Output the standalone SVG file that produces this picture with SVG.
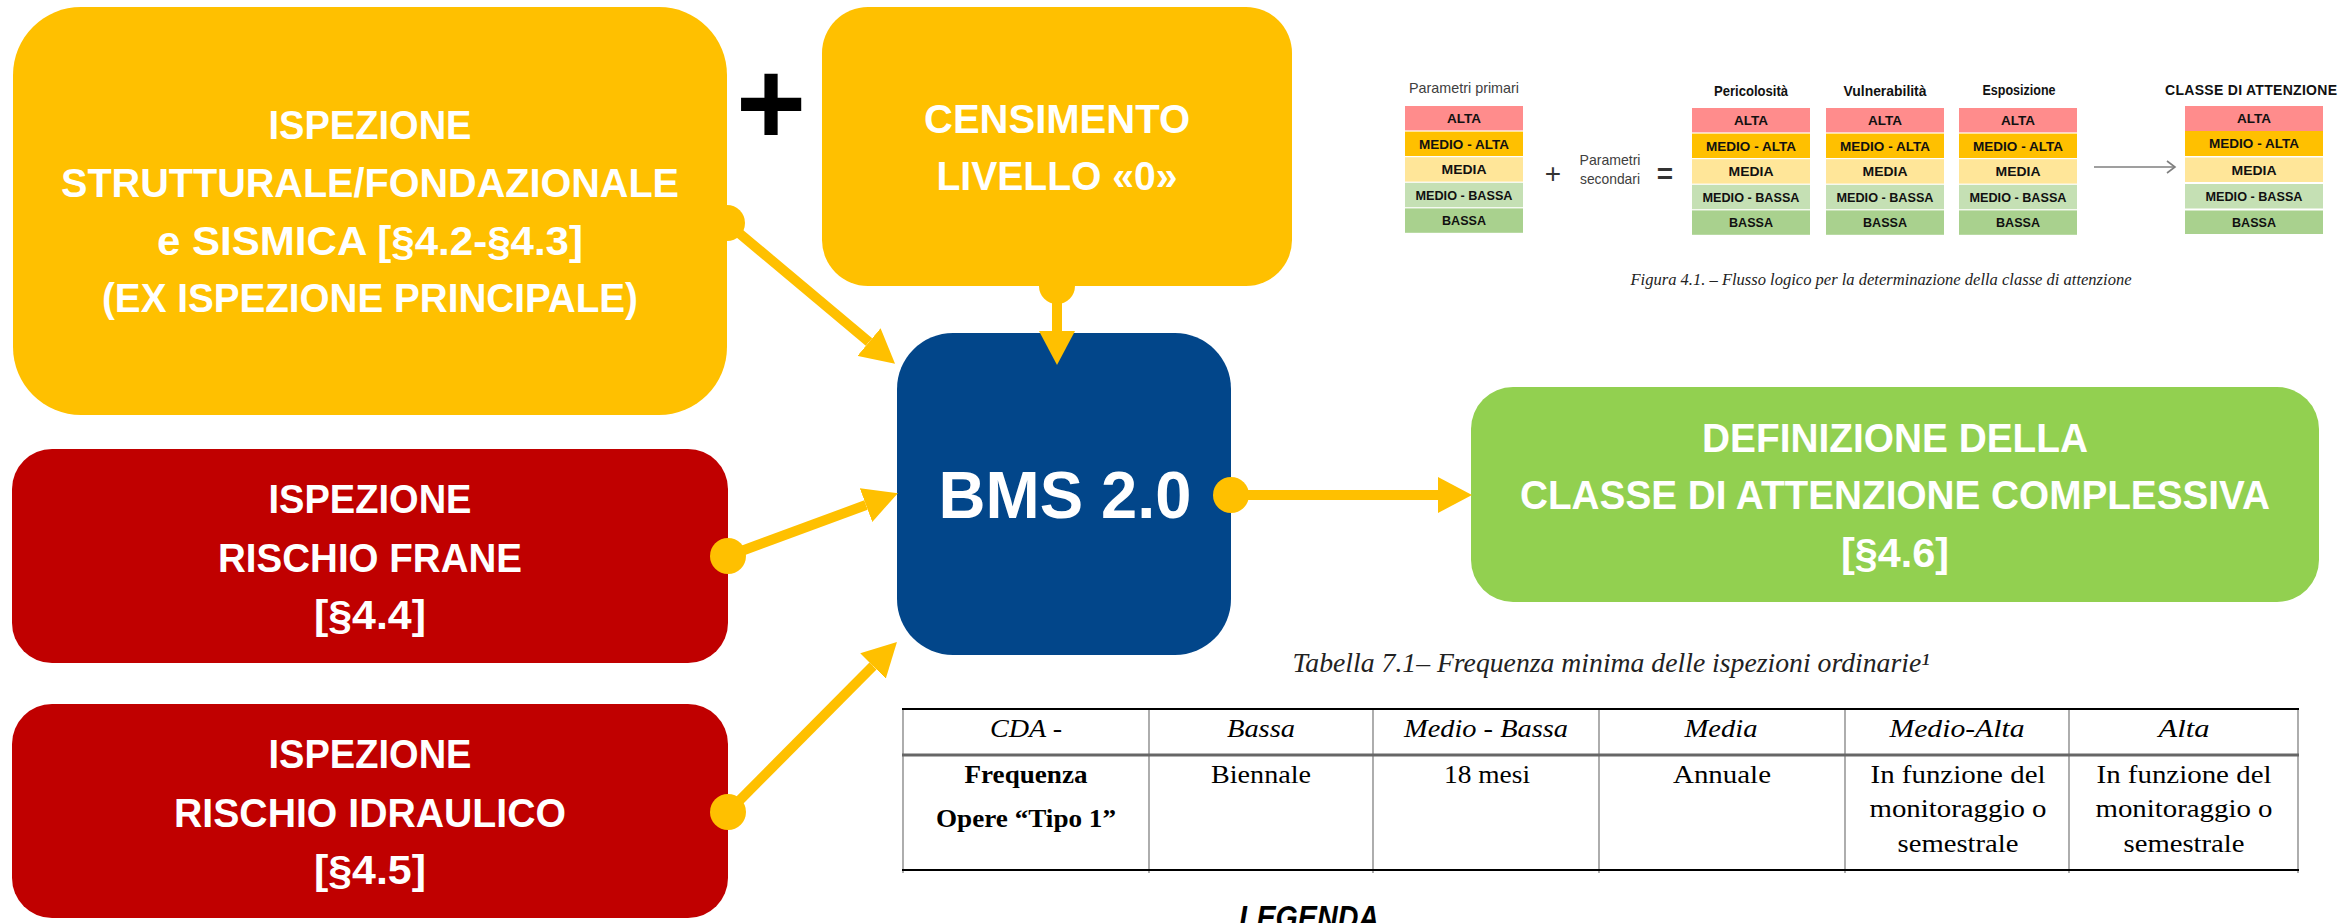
<svg xmlns="http://www.w3.org/2000/svg" xmlns:xlink="http://www.w3.org/1999/xlink" width="2343" height="923" viewBox="0 0 2343 923">
<style>
.nt{font-family:"Liberation Sans",Arial,sans-serif;font-weight:bold;fill:#fff;font-size:41px;text-anchor:middle}
.bms{font-size:66px}
.conn{stroke:#FFC000;stroke-width:10;fill:none;marker-start:url(#dot);marker-end:url(#arrow)}
.yel{fill:#FFC000}
.red{fill:#C00000}
.blu{fill:#02468A}
.grn{fill:#92D050}
.rl{font-family:"Liberation Sans",Arial,sans-serif;font-weight:bold;font-size:13px;fill:#111;text-anchor:middle}
.hd{font-family:"Liberation Sans",Arial,sans-serif;font-weight:bold;font-size:14px;fill:#111;text-anchor:middle}
.sm{font-family:"Liberation Sans",Arial,sans-serif;font-size:15px;fill:#404040;text-anchor:middle}
.cap{font-family:"Liberation Serif","Times New Roman",serif;font-style:italic;fill:#222;text-anchor:middle}
.th{font-family:"Liberation Serif","Times New Roman",serif;font-style:italic;font-size:25px;fill:#000;text-anchor:middle}
.td{font-family:"Liberation Serif","Times New Roman",serif;font-size:26px;fill:#000;text-anchor:middle}
.tb{font-weight:bold}
.r1{fill:#FF8C8C}.r2{fill:#FFC000}.r3{fill:#FFE699}.r4{fill:#C5E0B4}.r5{fill:#A9D18E}
</style>
<defs>
<marker id="arrow" markerUnits="userSpaceOnUse" viewBox="0 0 34 36" refX="0" refY="18" markerWidth="34" markerHeight="36" orient="auto"><path d="M0,0 L34,18 L0,36 Z" fill="#FFC000"/></marker>
<marker id="dot" markerUnits="userSpaceOnUse" viewBox="0 0 36 36" refX="18" refY="18" markerWidth="36" markerHeight="36"><circle cx="18" cy="18" r="18" fill="#FFC000"/></marker>
<g id="scale5">
<rect class="r1" x="0" y="0" width="118" height="24.4"/>
<rect class="r2" x="0" y="25.6" width="118" height="24.4"/>
<rect class="r3" x="0" y="51.2" width="118" height="24.4"/>
<rect class="r4" x="0" y="76.8" width="118" height="24.4"/>
<rect class="r5" x="0" y="102.4" width="118" height="24.4"/>
<text class="rl" x="59" y="17" textLength="34" lengthAdjust="spacingAndGlyphs">ALTA</text>
<text class="rl" x="59" y="42.6" textLength="90" lengthAdjust="spacingAndGlyphs">MEDIO - ALTA</text>
<text class="rl" x="59" y="68.2" textLength="45" lengthAdjust="spacingAndGlyphs">MEDIA</text>
<text class="rl" x="59" y="93.8" textLength="97" lengthAdjust="spacingAndGlyphs">MEDIO - BASSA</text>
<text class="rl" x="59" y="119.4" textLength="44" lengthAdjust="spacingAndGlyphs">BASSA</text>
</g>
</defs>
<rect x="0" y="0" width="2343" height="923" fill="#fff"/>

<g id="node-ispezione-strutturale">
<rect class="yel" x="13" y="7" width="714" height="408" rx="68" ry="68"/>
<text class="nt" x="370" y="139" textLength="203" lengthAdjust="spacingAndGlyphs">ISPEZIONE</text>
<text class="nt" x="370" y="197" textLength="618" lengthAdjust="spacingAndGlyphs">STRUTTURALE/FONDAZIONALE</text>
<text class="nt" x="370" y="255" textLength="426" lengthAdjust="spacingAndGlyphs">e SISMICA [§4.2-§4.3]</text>
<text class="nt" x="370" y="312" textLength="536" lengthAdjust="spacingAndGlyphs">(EX ISPEZIONE PRINCIPALE)</text>
</g>

<g id="plus-sign">
<text x="771" y="145" font-family="Liberation Sans, Arial, sans-serif" font-weight="bold" font-size="120" text-anchor="middle" fill="#000">+</text>
</g>

<g id="node-censimento">
<rect class="yel" x="822" y="7" width="470" height="279" rx="46" ry="46"/>
<text class="nt" x="1057" y="133" textLength="266" lengthAdjust="spacingAndGlyphs">CENSIMENTO</text>
<text class="nt" x="1057" y="190" textLength="241" lengthAdjust="spacingAndGlyphs">LIVELLO «0»</text>
</g>

<g id="node-bms">
<rect class="blu" x="897" y="333" width="334" height="322" rx="56" ry="56"/>
<text class="nt bms" x="1065" y="518" textLength="253" lengthAdjust="spacingAndGlyphs">BMS 2.0</text>
</g>

<g id="node-rischio-frane">
<rect class="red" x="12" y="449" width="716" height="214" rx="40" ry="40"/>
<text class="nt" x="370" y="513" textLength="203" lengthAdjust="spacingAndGlyphs">ISPEZIONE</text>
<text class="nt" x="370" y="572" textLength="304" lengthAdjust="spacingAndGlyphs">RISCHIO FRANE</text>
<text class="nt" x="370" y="629" textLength="112" lengthAdjust="spacingAndGlyphs">[§4.4]</text>
</g>

<g id="node-rischio-idraulico">
<rect class="red" x="12" y="704" width="716" height="214" rx="40" ry="40"/>
<text class="nt" x="370" y="768" textLength="203" lengthAdjust="spacingAndGlyphs">ISPEZIONE</text>
<text class="nt" x="370" y="827" textLength="392" lengthAdjust="spacingAndGlyphs">RISCHIO IDRAULICO</text>
<text class="nt" x="370" y="884" textLength="112" lengthAdjust="spacingAndGlyphs">[§4.5]</text>
</g>

<g id="node-classe-attenzione">
<rect class="grn" x="1471" y="387" width="848" height="215" rx="42" ry="42"/>
<text class="nt" x="1895" y="452" textLength="386" lengthAdjust="spacingAndGlyphs">DEFINIZIONE DELLA</text>
<text class="nt" x="1895" y="509" textLength="750" lengthAdjust="spacingAndGlyphs">CLASSE DI ATTENZIONE COMPLESSIVA</text>
<text class="nt" x="1895" y="567" textLength="108" lengthAdjust="spacingAndGlyphs">[§4.6]</text>
</g>

<g id="connectors">
<line class="conn" x1="727" y1="223" x2="869" y2="342"/>
<line class="conn" x1="1057" y1="286" x2="1057" y2="331"/>
<line class="conn" x1="728" y1="556" x2="866" y2="505"/>
<line class="conn" x1="728" y1="812" x2="873" y2="666"/>
<line class="conn" x1="1231" y1="495" x2="1438" y2="495"/>
</g>

<g id="figura-4-1">
<text class="sm" x="1464" y="93" textLength="110" lengthAdjust="spacingAndGlyphs">Parametri primari</text>
<use xlink:href="#scale5" x="1405" y="106"/>
<text x="1553" y="183" font-family="Liberation Sans, Arial, sans-serif" font-size="28" text-anchor="middle" fill="#333">+</text>
<text class="sm" x="1610" y="165" textLength="61" lengthAdjust="spacingAndGlyphs">Parametri</text>
<text class="sm" x="1610" y="184" textLength="60" lengthAdjust="spacingAndGlyphs">secondari</text>
<text x="1665" y="183" font-family="Liberation Sans, Arial, sans-serif" font-weight="bold" font-size="28" text-anchor="middle" fill="#333">=</text>
<text class="hd" x="1751" y="96" textLength="74" lengthAdjust="spacingAndGlyphs">Pericolosità</text>
<use xlink:href="#scale5" x="1692" y="108"/>
<text class="hd" x="1885" y="96" textLength="83" lengthAdjust="spacingAndGlyphs">Vulnerabilità</text>
<use xlink:href="#scale5" x="1826" y="108"/>
<text class="hd" x="2019" y="95" textLength="73" lengthAdjust="spacingAndGlyphs">Esposizione</text>
<use xlink:href="#scale5" x="1959" y="108"/>
<g stroke="#7F7F7F" stroke-width="1.6" fill="none">
<line x1="2094" y1="167" x2="2175" y2="167"/>
<polyline points="2167,161 2175,167 2167,173"/>
</g>
<text class="hd" x="2252" y="95" textLength="174" lengthAdjust="spacing" letter-spacing="2">CLASSE DI ATTENZIONE</text>
<g id="classe-column">
<rect class="r1" x="2185" y="106" width="138" height="25"/>
<rect class="r2" x="2185" y="131" width="138" height="25"/>
<rect class="r3" x="2185" y="157.5" width="138" height="24.5"/>
<rect class="r4" x="2185" y="184" width="138" height="24.5"/>
<rect class="r5" x="2185" y="210.5" width="138" height="23.5"/>
<text class="rl" x="2254" y="123" textLength="34" lengthAdjust="spacingAndGlyphs">ALTA</text>
<text class="rl" x="2254" y="148" textLength="90" lengthAdjust="spacingAndGlyphs">MEDIO - ALTA</text>
<text class="rl" x="2254" y="174.5" textLength="45" lengthAdjust="spacingAndGlyphs">MEDIA</text>
<text class="rl" x="2254" y="201" textLength="97" lengthAdjust="spacingAndGlyphs">MEDIO - BASSA</text>
<text class="rl" x="2254" y="227" textLength="44" lengthAdjust="spacingAndGlyphs">BASSA</text>
</g>
<text class="cap" x="1881" y="285" font-size="17" textLength="501" lengthAdjust="spacingAndGlyphs" fill="#333">Figura 4.1. – Flusso logico per la determinazione della classe di attenzione</text>
</g>

<g id="tabella-7-1">
<text class="cap" x="1611" y="672" font-size="27" textLength="637" lengthAdjust="spacingAndGlyphs">Tabella 7.1– Frequenza minima delle ispezioni ordinarie¹</text>
<g stroke="#777" stroke-width="1.2">
<line x1="903" y1="709" x2="903" y2="873"/>
<line x1="1149" y1="709" x2="1149" y2="873"/>
<line x1="1373" y1="709" x2="1373" y2="873"/>
<line x1="1599" y1="709" x2="1599" y2="873"/>
<line x1="1845" y1="709" x2="1845" y2="873"/>
<line x1="2069" y1="709" x2="2069" y2="873"/>
<line x1="2298" y1="709" x2="2298" y2="873"/>
</g>
<line x1="902" y1="709" x2="2299" y2="709" stroke="#000" stroke-width="2"/>
<line x1="902" y1="755" x2="2299" y2="755" stroke="#666" stroke-width="3"/>
<line x1="902" y1="870" x2="2299" y2="870" stroke="#000" stroke-width="2"/>
<text class="th" x="1026" y="737" textLength="72" lengthAdjust="spacingAndGlyphs">CDA -</text>
<text class="th" x="1261" y="737" textLength="68" lengthAdjust="spacingAndGlyphs">Bassa</text>
<text class="th" x="1486" y="737" textLength="164" lengthAdjust="spacingAndGlyphs">Medio - Bassa</text>
<text class="th" x="1721" y="737" textLength="73" lengthAdjust="spacingAndGlyphs">Media</text>
<text class="th" x="1957" y="737" textLength="135" lengthAdjust="spacingAndGlyphs">Medio-Alta</text>
<text class="th" x="2184" y="737" textLength="51" lengthAdjust="spacingAndGlyphs">Alta</text>
<text class="td tb" x="1026" y="783" textLength="123" lengthAdjust="spacingAndGlyphs">Frequenza</text>
<text class="td tb" x="1026" y="827" textLength="180" lengthAdjust="spacingAndGlyphs">Opere “Tipo 1”</text>
<text class="td" x="1261" y="783" textLength="100" lengthAdjust="spacingAndGlyphs">Biennale</text>
<text class="td" x="1487" y="783" textLength="86" lengthAdjust="spacingAndGlyphs">18 mesi</text>
<text class="td" x="1722" y="783" textLength="98" lengthAdjust="spacingAndGlyphs">Annuale</text>
<text class="td" x="1958" y="783" textLength="175" lengthAdjust="spacingAndGlyphs">In funzione del</text>
<text class="td" x="1958" y="817" textLength="177" lengthAdjust="spacingAndGlyphs">monitoraggio o</text>
<text class="td" x="1958" y="852" textLength="121" lengthAdjust="spacingAndGlyphs">semestrale</text>
<text class="td" x="2184" y="783" textLength="175" lengthAdjust="spacingAndGlyphs">In funzione del</text>
<text class="td" x="2184" y="817" textLength="177" lengthAdjust="spacingAndGlyphs">monitoraggio o</text>
<text class="td" x="2184" y="852" textLength="121" lengthAdjust="spacingAndGlyphs">semestrale</text>
</g>

<g id="legenda">
<text x="1309" y="929" font-family="Liberation Sans, Arial, sans-serif" font-weight="bold" font-style="italic" font-size="34" text-anchor="middle" fill="#000" textLength="140" lengthAdjust="spacingAndGlyphs">LEGENDA</text>
</g>
</svg>
